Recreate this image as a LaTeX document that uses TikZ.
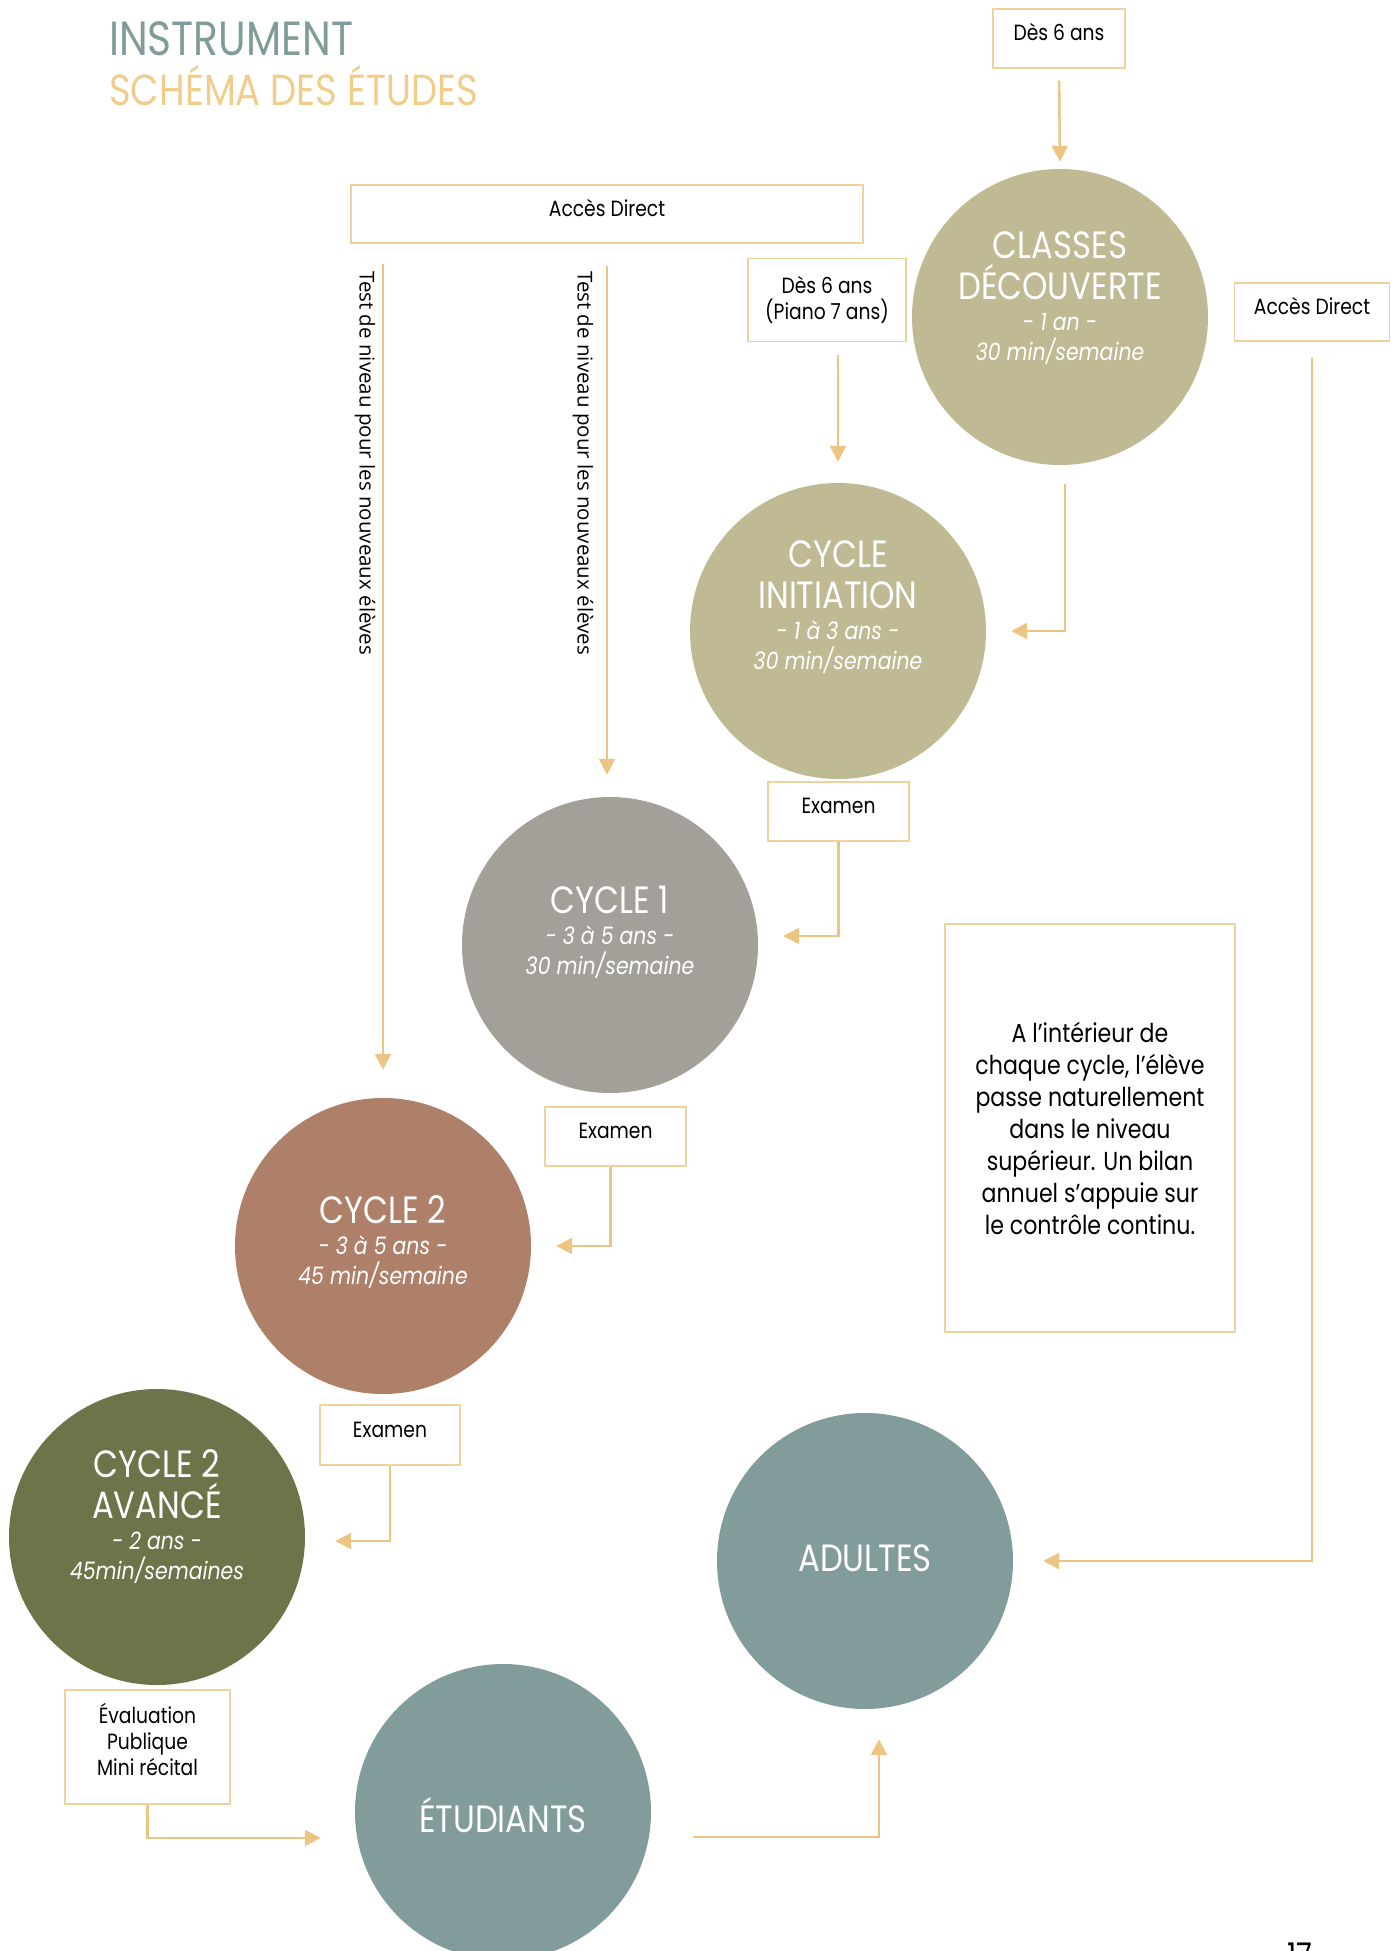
\documentclass[tikz,border=0pt]{standalone}
\usepackage{fontspec}
\setmainfont{Poppins}[FakeStretch=0.85]
\newfontfamily\verticalfont{Open Sans}
\usepackage{xcolor}
\usetikzlibrary{arrows.meta,positioning}
\definecolor{titleteal}{HTML}{7F9C98}
\definecolor{titlegold}{HTML}{F1CD8C}
\definecolor{linegold}{HTML}{EDC583}
\definecolor{boxgold}{HTML}{F0D29E}
\definecolor{khaki}{HTML}{BFBA93}
\definecolor{stonegray}{HTML}{A3A099}
\definecolor{terracotta}{HTML}{AF8069}
\definecolor{darkolive}{HTML}{6D7449}
\definecolor{sage}{HTML}{819C9A}
\newcommand{\stagecaps}{\fontsize{38}{41}\selectfont}
\newcommand{\stageit}{\fontsize{24}{30}\selectfont\itshape}
\tikzset{
	title/.style={anchor=base west, inner sep=0pt},
	entrybox/.style={draw=boxgold, line width=1.2pt, fill=white, inner sep=0pt, align=center, font=\fontsize{22}{26}\selectfont},
	lifted/.style={text height=14pt, text depth=10pt},
	stage/.style={circle, minimum size=296pt, inner sep=0pt},
	stagetext/.style={text=white, align=center, inner sep=0pt, font=\stagecaps},
	vtext/.style={rotate=-90, anchor=west, inner sep=0pt, font=\verticalfont\fontsize{20.5}{24}\selectfont},
	flow/.style={draw=linegold, line width=2.5pt, -{Triangle[length=16pt,width=16pt]}}
}
\newcommand{\elbowconnect}[3]{
	\draw[flow, #1] (#2) |- (#3);
}
\begin{document}
\begin{tikzpicture}[x=1pt, y=-1pt]
	\useasboundingbox (0,0) rectangle (1399,1951);
	\node[title, text=titleteal, font=\fontsize{48}{50}\selectfont] (title-instrument) at (109,56) {INSTRUMENT};
	\node[title, text=titlegold, font=\fontsize{43.5}{50}\selectfont] (title-schema) at (109,105) {SCHÉMA DES ÉTUDES};
	
	% cycles
	\node[stage, fill=khaki] (decouverte) at (1060,317) {};
	\node[stagetext] (decouverte-text) at (1060,298) {CLASSES\\DÉCOUVERTE\\[-10pt]\stageit - 1 an -\\[-11pt]\stageit 30 min/semaine};
	\node[stage, fill=khaki] (initiation) at (838,631) {};
	\node[stagetext] (initiation-text) at (838,607) {CYCLE\\INITIATION\\[-10pt]\stageit - 1 à 3 ans -\\[-11pt]\stageit 30 min/semaine};
	\node[stage, fill=stonegray] (cycle-un) at (610,945) {};
	\node[stagetext] (cycle-un-text) at (610,932) {CYCLE 1\\[-10pt]\stageit - 3 à 5 ans -\\[-11pt]\stageit 30 min/semaine};
	\node[stage, fill=terracotta] (cycle-deux) at (383,1246) {};
	\node[stagetext] (cycle-deux-text) at (383,1242) {CYCLE 2\\[-10pt]\stageit - 3 à 5 ans -\\[-11pt]\stageit 45 min/semaine};
	\node[stage, fill=darkolive] (avance) at (157,1537) {};
	\node[stagetext] (avance-text) at (157,1517) {CYCLE 2\\AVANCÉ\\[-10pt]\stageit - 2 ans -\\[-11pt]\stageit 45min/semaines};
	\node[stage, fill=sage] (etudiants) at (503,1812) {};
	\node[stagetext] (etudiants-text) at (503,1815) {ÉTUDIANTS};
	\node[stage, fill=sage] (adultes) at (865,1561) {};
	\node[stagetext] (adultes-text) at (865,1558) {ADULTES};
	
	% boxes
	\node[entrybox, lifted, minimum width=132pt, minimum height=59pt] (des-six) at (1059,38.5) {Dès 6 ans};
	\node[entrybox, lifted, minimum width=512pt, minimum height=58pt] (acces) at (607,214) {Accès Direct};
	\node[entrybox, minimum width=158pt, minimum height=83pt] (des-six-piano) at (827,300) {Dès 6 ans\\(Piano 7 ans)};
	\node[entrybox, lifted, minimum width=155pt, minimum height=58pt] (acces-adultes) at (1312,312) {Accès Direct};
	\node[entrybox, lifted, minimum width=141pt, minimum height=59pt] (examen-initiation) at (838.5,811.5) {Examen};
	\node[entrybox, lifted, minimum width=141pt, minimum height=59pt] (examen-un) at (615.5,1136.5) {Examen};
	\node[entrybox, lifted, minimum width=140pt, minimum height=60pt] (examen-deux) at (390,1435) {Examen};
	\node[entrybox, text depth=15pt, minimum width=165pt, minimum height=114pt] (evaluation) at (147.5,1747) {Évaluation\\Publique\\Mini récital};
	\node[entrybox, minimum width=290pt, minimum height=408pt, font=\fontsize{26}{32}\selectfont] (note) at (1090,1128) {A l’intérieur de\\chaque cycle, l’élève\\passe naturellement\\dans le niveau\\supérieur. Un bilan\\annuel s’appuie sur\\le contrôle continu.};
	
	\node[vtext] (test-deux) at (365,271) {Test de niveau pour les nouveaux élèves};
	\node[vtext] (test-un) at (583,271) {Test de niveau pour les nouveaux élèves};
	
	% connectors
	\draw[flow, shorten <=12pt, shorten >=7pt] (des-six.south) -- (decouverte.north);
	\draw[flow, shorten <=13pt, shorten >=21pt] (des-six-piano.south -| initiation.north) -- (initiation.north);
	\draw[flow, shorten <=20pt, shorten >=28pt] (acces.south -| cycle-deux.north) -- (cycle-deux.north);
	\draw[flow, shorten <=22pt, shorten >=22pt] (acces.south) -- (acces.south |- cycle-un.north);
	\elbowconnect{shorten <=19pt, shorten >=25pt}{[xshift=5pt]decouverte.south}{initiation.east}
	\elbowconnect{shorten >=25pt}{examen-initiation.south}{[yshift=9pt]cycle-un.east}
	\elbowconnect{shorten >=25pt}{[xshift=-5pt]examen-un.south}{cycle-deux.east}
	\elbowconnect{shorten >=30pt}{examen-deux.south}{[yshift=-4pt]avance.east}
	\elbowconnect{shorten >=34pt}{evaluation.south}{[yshift=-26pt]etudiants.west}
	\elbowconnect{shorten <=16pt, shorten >=30pt}{acces-adultes.south}{adultes.east}
	\draw[flow, shorten <=42pt, shorten >=30pt] ([yshift=-25pt]etudiants.east) -| ([xshift=14pt]adultes.south);
	
	\node[anchor=north, inner sep=0pt, font=\fontsize{34}{40}\selectfont] (page-number) at (1300,1943) {17};
\end{tikzpicture}
\end{document}
